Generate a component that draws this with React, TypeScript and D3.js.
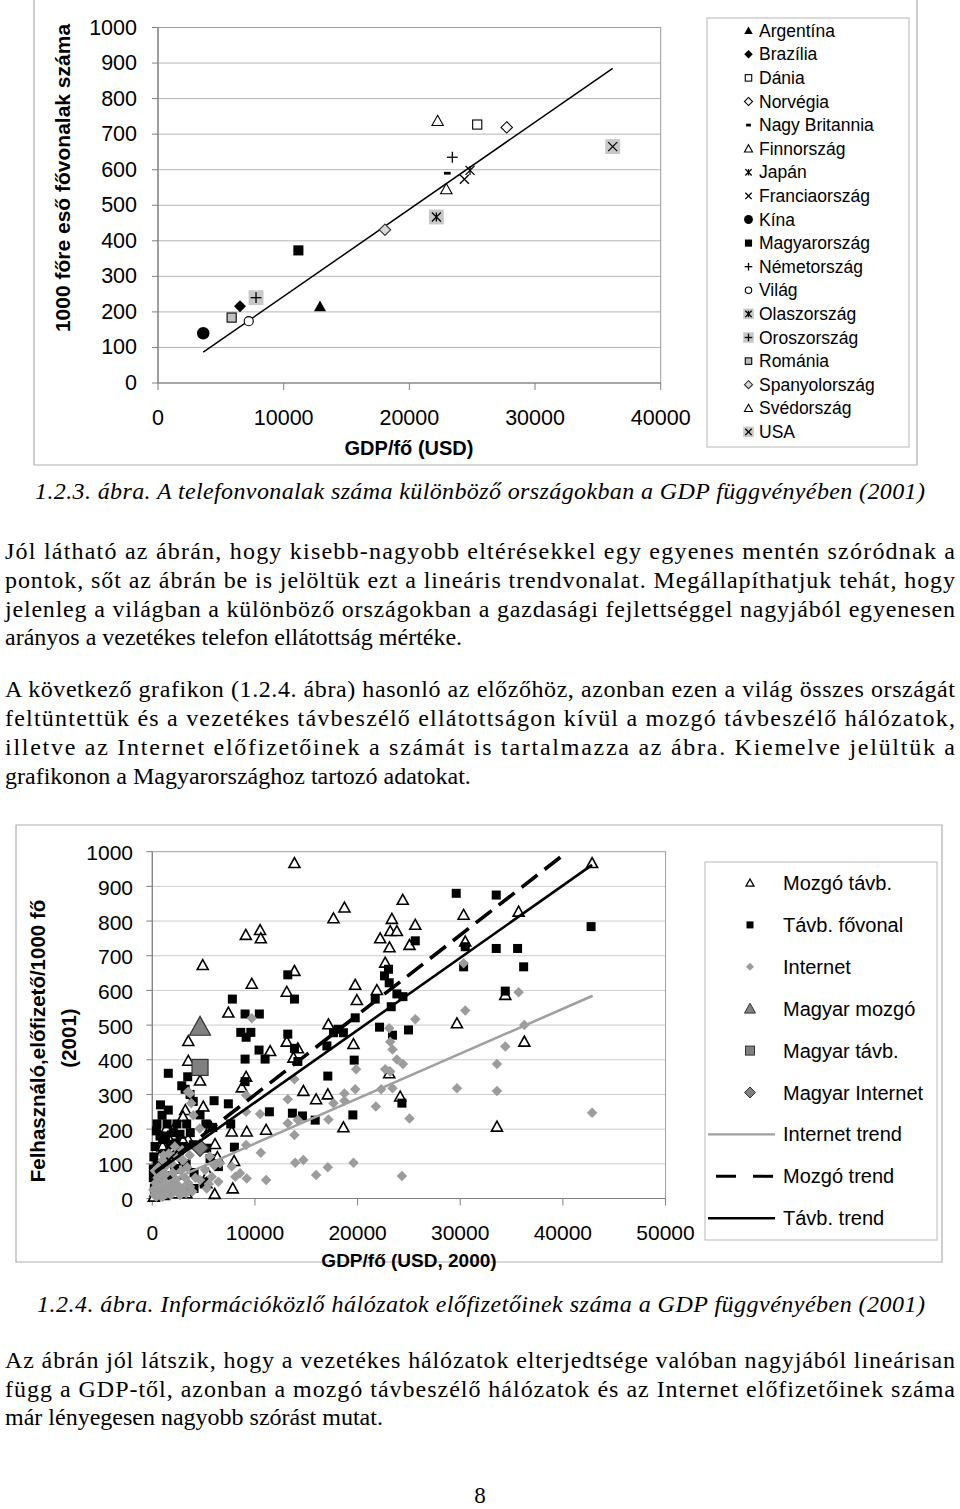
import React from 'react';
import * as d3 from 'd3';

// ---------- Chart 1 data ----------
const countries = ['Argentína', 'Brazília', 'Dánia', 'Norvégia', 'Nagy Britannia', 'Finnország', 'Japán', 'Franciaország', 'Kína', 'Magyarország', 'Németország', 'Világ', 'Olaszország', 'Oroszország', 'Románia', 'Spanyolország', 'Svédország', 'USA'];
const countryGdp = [12890, 6525, 25400, 27750, 23020, 22940, 24830, 24380, 3600, 11170, 23420, 7220, 22150, 7800, 5860, 18060, 22250, 36180];
const countryLines = [215, 216, 727, 719, 590, 545, 598, 573, 140, 373, 635, 174, 467, 240, 184, 431, 737, 665];
const countryMarkers = ['triFill', 'diaFill', 'sqOpen', 'diaOpen', 'dash', 'triOpen', 'aster', 'x', 'circFill', 'sqFill', 'plus', 'circOpen', 'grayAster', 'grayPlus', 'sqGray', 'diaGray', 'triOpen', 'grayX'];
const trend1Coef = [0.0245, -1.3];
const trend1Range = [3600, 36180];

const yTicks = [0, 100, 200, 300, 400, 500, 600, 700, 800, 900, 1000];
const xTicks1 = [0, 10000, 20000, 30000, 40000];
const xTicks2 = [0, 10000, 20000, 30000, 40000, 50000];

// ---------- Chart 2 data ----------
const mozgoPoints: [number, number][] = [
  [42850, 967], [24400, 861], [30330, 818], [35690, 827], [25620, 789], [25060, 731], [30490, 741], [34390, 587], [29680, 505], [36245, 452], [24150, 294], [33580, 207],
  [13850, 967], [18720, 839], [17650, 808], [23340, 806], [23180, 771], [23830, 771], [22200, 750], [23110, 724], [22690, 680], [21880, 601], [19770, 616], [19930, 572], [19600, 445], [17160, 502], [13850, 656], [13100, 596], [13100, 452], [14180, 433], [13750, 406], [11480, 425], [9690, 619], [9110, 760], [10500, 774], [10570, 750], [7410, 536], [4910, 673], [3510, 454], [3510, 397], [4650, 340], [9140, 351], [8720, 320], [14720, 310], [15960, 286], [17100, 300], [18620, 205], [23080, 361], [7740, 193], [9200, 193], [11090, 198], [7970, 108], [7840, 29], [6110, 157], [5700, 207], [4970, 265], [3220, 255], [2990, 236], [1370, 202], [2020, 198], [1530, 178], [3480, 171], [2990, 167], [6340, 119], [3320, 15], [6080, 13], [490, 92], [950, 74], [5430, 71], [5270, 44],
  [300, 20], [600, 45], [900, 30], [1200, 60], [1500, 90], [1800, 40], [2200, 110], [2500, 70], [700, 120], [1000, 150], [400, 65], [2700, 25], [1600, 130], [2400, 140], [150, 5], [1100, 10], [2000, 15]
];
const tavbPoints: [number, number][] = [
  [29610, 880], [33510, 875], [42750, 784], [25620, 743], [30490, 726], [33510, 721], [35590, 721], [30330, 668], [36180, 668], [34390, 598], [24420, 582], [24960, 486], [24320, 275],
  [13200, 645], [13850, 575], [13200, 474], [13850, 433], [14180, 395], [13650, 246], [14630, 238], [15870, 226], [17100, 353], [17010, 440], [17650, 478], [18620, 478], [18100, 488], [19670, 399], [19540, 241], [19770, 521], [21720, 575], [22140, 494], [22620, 642], [23010, 661], [23080, 622], [23280, 553], [23400, 471], [23830, 590],
  [7800, 575], [9040, 532], [10430, 532], [8620, 479], [9600, 479], [9140, 465], [10400, 428], [10990, 402], [9040, 402], [11410, 250], [9040, 337], [7410, 273], [6020, 282], [7640, 215], [8000, 148], [6440, 92], [4070, 29], [1560, 361], [3450, 351], [2870, 325], [3200, 315], [3680, 300], [3990, 280], [800, 270], [1560, 255], [950, 240], [1440, 215], [460, 215], [2400, 215], [3350, 215], [4650, 241], [5220, 215], [5870, 205], [2050, 190], [750, 180], [1720, 155], [2700, 185], [4000, 155], [270, 150], [3030, 150], [5300, 145], [5630, 115], [6280, 100], [100, 85], [1080, 100], [580, 45], [1900, 65], [4070, 75], [5040, 45],
  [150, 120], [500, 100], [100, 60], [800, 50], [200, 30], [600, 15], [1200, 130], [1700, 110], [2200, 85], [2600, 140], [3300, 100], [1000, 170], [2300, 160], [400, 195], [1300, 180], [3700, 190]
];
const internetPoints: [number, number][] = [
  [30330, 678], [35690, 595], [30490, 542], [25620, 517], [36245, 500], [34390, 438], [24420, 388], [33580, 388], [29680, 318], [33580, 310], [25060, 231], [42850, 247], [24320, 65],
  [23080, 491], [23180, 452], [23400, 430], [23830, 401], [22690, 373], [23180, 366], [19860, 373], [19770, 315], [18720, 303], [18720, 282], [17650, 275], [17160, 228], [22300, 315], [21780, 265], [23400, 318], [19600, 103], [17100, 90], [15960, 68], [14720, 111], [13920, 103], [13200, 217], [13850, 183], [13200, 286], [13850, 344], [14180, 226],
  [9690, 520], [9140, 298], [9140, 250], [10500, 244], [9140, 154], [10570, 132], [11090, 53], [9200, 58], [8550, 73], [8090, 63], [3680, 303], [4000, 240], [5140, 82], [6440, 48], [5790, 63], [6600, 102], [7740, 92], [4650, 53], [5300, 29], [3680, 34], [3480, 308], [3800, 275], [4620, 202], [3650, 125], [5600, 121], [6040, 95], [5500, 42],
  [200, 10], [500, 20], [800, 8], [1100, 30], [1400, 15], [1700, 40], [2000, 25], [2300, 55], [2600, 35], [900, 60], [300, 45], [1300, 70], [600, 90], [2800, 80], [1900, 100], [3200, 60], [3500, 45], [2500, 120], [1600, 130], [3000, 110], [1000, 110], [2200, 150],
  [100, 25], [400, 5], [700, 35], [1000, 5], [1200, 50], [1500, 30], [1800, 10], [2100, 40], [2400, 20], [2700, 10], [3000, 30], [500, 60], [800, 80], [1400, 95], [2000, 75], [250, 80], [3300, 15], [3900, 20], [4200, 60], [1100, 125], [2900, 140], [3400, 90]
];
const magyarGdp = 4650;
const magyarValues = [495, 378, 146]; // mozgó, távb., Internet
const trendNames = ['Internet trend', 'Mozgó trend', 'Távb. trend'];
const trendSlopes = [0.01295, 0.02302, 0.02085];
const trendIntercepts = [29, 69, 68.5];
const trendFrom = [300, 300, 300];
const trendTo = [42900, 42900, 42850];

const legend2Labels = ['Mozgó távb.', 'Távb. fővonal', 'Internet', 'Magyar mozgó', 'Magyar távb.', 'Magyar Internet', 'Internet trend', 'Mozgó trend', 'Távb. trend'];

// ---------- Text ----------
const caption1 = '1.2.3. ábra. A telefonvonalak száma különböző országokban a GDP függvényében (2001)';
const caption2 = '1.2.4. ábra. Információközlő hálózatok előfizetőinek száma a GDP függvényében (2001)';
const para1 = [
  'Jól látható az ábrán, hogy kisebb-nagyobb eltérésekkel egy egyenes mentén szóródnak a',
  'pontok, sőt az ábrán be is jelöltük ezt a lineáris trendvonalat. Megállapíthatjuk tehát, hogy',
  'jelenleg a világban a különböző országokban a gazdasági fejlettséggel nagyjából egyenesen',
  'arányos a vezetékes telefon ellátottság mértéke.'
];
const para2 = [
  'A következő grafikon (1.2.4. ábra) hasonló az előzőhöz, azonban ezen a világ összes országát',
  'feltüntettük és a vezetékes távbeszélő ellátottságon kívül a mozgó távbeszélő hálózatok,',
  'illetve az Internet előfizetőinek a számát is tartalmazza az ábra. Kiemelve jelültük a',
  'grafikonon a Magyarországhoz tartozó adatokat.'
];
const para3 = [
  'Az ábrán jól látszik, hogy a vezetékes hálózatok elterjedtsége valóban nagyjából lineárisan',
  'függ a GDP-től, azonban a mozgó távbeszélő hálózatok és az Internet előfizetőinek száma',
  'már lényegesen nagyobb szórást mutat.'
];

const SANS = "'Liberation Sans', Arial, Helvetica, sans-serif";
const SERIF = "'Liberation Serif', 'Times New Roman', Times, serif";

function tri(x: number, y: number, w: number) {
  return `M${x},${y - 0.5 * w}L${x + 0.5 * w},${y + 0.4 * w}L${x - 0.5 * w},${y + 0.4 * w}Z`;
}
function dia(x: number, y: number, w: number) {
  const h = w / 2;
  return `M${x},${y - h}L${x + h},${y}L${x},${y + h}L${x - h},${y}Z`;
}

function Marker1({ type, x, y, s }: { type: string; x: number; y: number; s: number }) {
  const h = s / 2;
  const xLines = (k: number) => (
    <g stroke="#000" strokeWidth={1.3}>
      <line x1={x - k} y1={y - k} x2={x + k} y2={y + k} />
      <line x1={x - k} y1={y + k} x2={x + k} y2={y - k} />
    </g>
  );
  const plusLines = (k: number) => (
    <g stroke="#000" strokeWidth={1.3}>
      <line x1={x - k} y1={y} x2={x + k} y2={y} />
      <line x1={x} y1={y - k} x2={x} y2={y + k} />
    </g>
  );
  const asterLines = (k: number) => (
    <g stroke="#000" strokeWidth={1.3}>
      <line x1={x - k} y1={y - k} x2={x + k} y2={y + k} />
      <line x1={x - k} y1={y + k} x2={x + k} y2={y - k} />
      <line x1={x} y1={y - k} x2={x} y2={y + k} />
    </g>
  );
  const bg = <rect x={x - 0.62 * s} y={y - 0.62 * s} width={1.24 * s} height={1.24 * s} fill="#c8c8c8" />;
  switch (type) {
    case 'triFill': return <path d={tri(x, y, s)} fill="#000" />;
    case 'triOpen': return <path d={tri(x, y, s * 0.95)} fill="#fff" stroke="#000" strokeWidth={1.1} />;
    case 'diaFill': return <path d={dia(x, y, s)} fill="#000" />;
    case 'diaOpen': return <path d={dia(x, y, s * 0.95)} fill="#fff" stroke="#000" strokeWidth={1.1} />;
    case 'diaGray': return <path d={dia(x, y, s * 0.95)} fill="#d8d8d8" stroke="#333" strokeWidth={1.1} />;
    case 'sqFill': return <rect x={x - 0.42 * s} y={y - 0.42 * s} width={0.84 * s} height={0.84 * s} fill="#000" />;
    case 'sqOpen': return <rect x={x - 0.38 * s} y={y - 0.38 * s} width={0.76 * s} height={0.76 * s} fill="#fff" stroke="#000" strokeWidth={1.1} />;
    case 'sqGray': return <rect x={x - 0.38 * s} y={y - 0.38 * s} width={0.76 * s} height={0.76 * s} fill="#c0c0c0" stroke="#000" strokeWidth={1.1} />;
    case 'circFill': return <circle cx={x} cy={y} r={0.52 * s} fill="#000" />;
    case 'circOpen': return <circle cx={x} cy={y} r={0.38 * s} fill="#fff" stroke="#000" strokeWidth={1.1} />;
    case 'dash': return <rect x={x - 0.28 * s} y={y - 1.4} width={0.56 * s} height={2.8} fill="#000" />;
    case 'plus': return plusLines(h * 0.9);
    case 'x': return xLines(h * 0.75);
    case 'aster': return asterLines(h * 0.75);
    case 'grayX': return <g>{bg}{xLines(h * 0.75)}</g>;
    case 'grayPlus': return <g>{bg}{plusLines(h * 0.9)}</g>;
    case 'grayAster': return <g>{bg}{asterLines(h * 0.75)}</g>;
    default: return null;
  }
}

function TextLine({ text, x, y, len, size = 24, italic = false }: { text: string; x: number; y: number; len?: number; size?: number; italic?: boolean }) {
  const props: any = {};
  if (len) { props.textLength = len; props.lengthAdjust = 'spacing'; }
  return (
    <text x={x} y={y} fontFamily={SERIF} fontSize={size} fontStyle={italic ? 'italic' : 'normal'} fill="#000" {...props}>{text}</text>
  );
}

export default function App() {
  const x1 = d3.scaleLinear().domain([0, 40000]).range([158, 660.7]);
  const y1 = d3.scaleLinear().domain([0, 1000]).range([383, 27.5]);
  const x2 = d3.scaleLinear().domain([0, 50000]).range([152.3, 665.5]);
  const y2 = d3.scaleLinear().domain([0, 1000]).range([1198.5, 851.7]);

  const line1 = d3.line<number>().x(d => x1(d)).y(d => y1(trend1Coef[0] * d + trend1Coef[1]));

  const trendPaths = trendNames.map((_, i) => {
    const end = Math.min(trendTo[i], (1000 - trendIntercepts[i]) / trendSlopes[i]);
    const gen = d3.line<number>().x(d => x2(d)).y(d => y2(trendSlopes[i] * d + trendIntercepts[i]));
    return gen([trendFrom[i], end]) || '';
  });
  const trendStyles = [
    { stroke: '#a0a0a0', width: 2.6, dash: undefined as string | undefined },
    { stroke: '#000', width: 3.6, dash: '20,9' },
    { stroke: '#000', width: 2.6, dash: undefined as string | undefined }
  ];

  const body1Y = [559, 588, 617, 645];
  const body2Y = [697, 726, 755, 784];
  const body3Y = [1368, 1397, 1425];

  return (
    <svg width={960} height={1509} style={{ position: 'absolute', left: 0, top: 0, background: '#fff' }}>
      <rect x={0} y={0} width={960} height={1509} fill="#fff" />

      {/* ===== Chart 1 ===== */}
      <path d="M34,-2V465H917V-2" fill="none" stroke="#b0b0b0" strokeWidth={1.2} />
      {yTicks.filter(t => t > 0 && t < 1000).map(t => (
        <line key={'g1' + t} x1={x1(0)} x2={x1(40000)} y1={y1(t)} y2={y1(t)} stroke="#b4b4b4" strokeWidth={1} />
      ))}
      <rect x={x1(0)} y={y1(1000)} width={x1(40000) - x1(0)} height={y1(0) - y1(1000)} fill="none" stroke="#9a9a9a" strokeWidth={1} />
      <line x1={x1(0)} x2={x1(40000)} y1={y1(0)} y2={y1(0)} stroke="#808080" strokeWidth={1.2} />
      <line x1={x1(0)} x2={x1(0)} y1={y1(0)} y2={y1(1000)} stroke="#808080" strokeWidth={1.2} />
      {yTicks.map(t => (
        <g key={'yt1' + t}>
          <line x1={x1(0) - 6} x2={x1(0)} y1={y1(t)} y2={y1(t)} stroke="#808080" />
          <text x={137} y={y1(t)} dominantBaseline="central" textAnchor="end" fontFamily={SANS} fontSize={21.5} fill="#000">{t}</text>
        </g>
      ))}
      {xTicks1.map(t => (
        <g key={'xt1' + t}>
          <line x1={x1(t)} x2={x1(t)} y1={y1(0)} y2={y1(0) + 7} stroke="#808080" />
          <text x={x1(t)} y={418} dominantBaseline="central" textAnchor="middle" fontFamily={SANS} fontSize={21.5} fill="#000">{t}</text>
        </g>
      ))}
      <text x={409} y={448} dominantBaseline="central" textAnchor="middle" fontFamily={SANS} fontSize={20} fontWeight="bold">GDP/fő (USD)</text>
      <text transform="translate(62,178) rotate(-90)" dominantBaseline="central" textAnchor="middle" fontFamily={SANS} fontSize={21} fontWeight="bold">1000 főre eső fővonalak száma</text>
      <path d={line1(trend1Range) || ''} fill="none" stroke="#000" strokeWidth={1.5} />
      {countries.map((c, i) => (
        <Marker1 key={'m1' + c} type={countryMarkers[i]} x={x1(countryGdp[i])} y={y1(countryLines[i])} s={12} />
      ))}
      {/* legend 1 */}
      <rect x={707} y={18} width={202} height={429} fill="#fff" stroke="#c4c4c4" strokeWidth={1.2} />
      {countries.map((c, i) => (
        <g key={'l1' + c}>
          <Marker1 type={countryMarkers[i]} x={748.5} y={30.7 + 23.6 * i} s={8.5} />
          <text x={759} y={30.7 + 23.6 * i} dominantBaseline="central" fontFamily={SANS} fontSize={17.5} fill="#000">{c}</text>
        </g>
      ))}

      {/* ===== Text ===== */}
      <TextLine text={caption1} x={35} y={499} len={890} italic />
      {para1.map((t, i) => <TextLine key={'p1' + i} text={t} x={5} y={body1Y[i]} len={i < 3 ? 950 : undefined} />)}
      {para2.map((t, i) => <TextLine key={'p2' + i} text={t} x={5} y={body2Y[i]} len={i < 3 ? 950 : undefined} />)}

      {/* ===== Chart 2 ===== */}
      <path d="M16,825V1262H942V825Z" fill="none" stroke="#b0b0b0" strokeWidth={1.2} />
      {yTicks.filter(t => t > 0 && t < 1000).map(t => (
        <line key={'g2' + t} x1={x2(0)} x2={x2(50000)} y1={y2(t)} y2={y2(t)} stroke="#cdcdcd" strokeWidth={1} />
      ))}
      <rect x={x2(0)} y={y2(1000)} width={x2(50000) - x2(0)} height={y2(0) - y2(1000)} fill="none" stroke="#a0a0a0" strokeWidth={1} />
      <line x1={x2(0)} x2={x2(50000)} y1={y2(0)} y2={y2(0)} stroke="#808080" strokeWidth={1.2} />
      <line x1={x2(0)} x2={x2(0)} y1={y2(0)} y2={y2(1000)} stroke="#808080" strokeWidth={1.2} />
      {yTicks.map(t => (
        <g key={'yt2' + t}>
          <line x1={x2(0) - 6} x2={x2(0)} y1={y2(t)} y2={y2(t)} stroke="#808080" />
          <text x={133} y={y2(t) + 1} dominantBaseline="central" textAnchor="end" fontFamily={SANS} fontSize={21} fill="#000">{t}</text>
        </g>
      ))}
      {xTicks2.map(t => (
        <g key={'xt2' + t}>
          <line x1={x2(t)} x2={x2(t)} y1={y2(0)} y2={y2(0) + 7} stroke="#808080" />
          <text x={x2(t)} y={1232} dominantBaseline="central" textAnchor="middle" fontFamily={SANS} fontSize={21} fill="#000">{t}</text>
        </g>
      ))}
      <text x={409} y={1260} dominantBaseline="central" textAnchor="middle" fontFamily={SANS} fontSize={19} fontWeight="bold">GDP/fő (USD, 2000)</text>
      <text transform="translate(37,1041) rotate(-90)" dominantBaseline="central" textAnchor="middle" fontFamily={SANS} fontSize={20.5} fontWeight="bold">Felhasználó,előfizető/1000 fő</text>
      <text transform="translate(68,1038) rotate(-90)" dominantBaseline="central" textAnchor="middle" fontFamily={SANS} fontSize={20.5} fontWeight="bold">(2001)</text>

      {mozgoPoints.map((p, i) => (
        <path key={'mz' + i} d={tri(x2(p[0]), y2(p[1]), 11)} fill="#fff" stroke="#000" strokeWidth={1.6} />
      ))}
      {tavbPoints.map((p, i) => (
        <rect key={'tv' + i} x={x2(p[0]) - 4.5} y={y2(p[1]) - 4.5} width={9} height={9} fill="#000" />
      ))}
      {internetPoints.map((p, i) => (
        <path key={'in' + i} d={dia(x2(p[0]), y2(p[1]), 10.5)} fill="#9c9c9c" />
      ))}
      <path d={tri(x2(magyarGdp), y2(magyarValues[0]), 21)} fill="#808080" stroke="#333" strokeWidth={1.2} />
      <rect x={x2(magyarGdp) - 8} y={y2(magyarValues[1]) - 8} width={16} height={16} fill="#808080" stroke="#333" strokeWidth={1.2} />
      <path d={dia(x2(magyarGdp), y2(magyarValues[2]), 17)} fill="#808080" stroke="#333" strokeWidth={1.2} />
      {trendPaths.map((d, i) => (
        <path key={'tr' + i} d={d} fill="none" stroke={trendStyles[i].stroke} strokeWidth={trendStyles[i].width} strokeDasharray={trendStyles[i].dash} />
      ))}

      {/* legend 2 */}
      <rect x={705} y={862} width={232} height={378} fill="#fff" stroke="#c4c4c4" strokeWidth={1.2} />
      {legend2Labels.map((lab, i) => {
        const cy = 883 + 41.9 * i;
        let sym: any = null;
        if (i === 0) sym = <path d={tri(750, cy, 8)} fill="#fff" stroke="#000" strokeWidth={1.3} />;
        if (i === 1) sym = <rect x={746.5} y={cy - 3.5} width={7} height={7} fill="#000" />;
        if (i === 2) sym = <path d={dia(750, cy, 8)} fill="#9c9c9c" />;
        if (i === 3) sym = <path d={tri(750, cy, 11)} fill="#808080" stroke="#333" strokeWidth={1} />;
        if (i === 4) sym = <rect x={745.5} y={cy - 4.5} width={9} height={9} fill="#808080" stroke="#333" strokeWidth={1} />;
        if (i === 5) sym = <path d={dia(750, cy, 11)} fill="#808080" stroke="#333" strokeWidth={1} />;
        if (i >= 6) {
          const st = trendStyles[i - 6];
          sym = <line x1={i === 7 ? 716 : 708} x2={775} y1={cy} y2={cy} stroke={st.stroke} strokeWidth={i === 7 ? 3 : 2.4} strokeDasharray={i === 7 ? '20,17' : undefined} />;
        }
        return (
          <g key={'l2' + i}>
            {sym}
            <text x={783} y={cy} dominantBaseline="central" fontFamily={SANS} fontSize={20} fill="#000">{lab}</text>
          </g>
        );
      })}

      {/* ===== Text bottom ===== */}
      <TextLine text={caption2} x={37} y={1312} len={888} italic />
      {para3.map((t, i) => <TextLine key={'p3' + i} text={t} x={5} y={body3Y[i]} len={i < 2 ? 950 : undefined} />)}
      <text x={480} y={1503} textAnchor="middle" fontFamily={SERIF} fontSize={23}>8</text>
    </svg>
  );
}
